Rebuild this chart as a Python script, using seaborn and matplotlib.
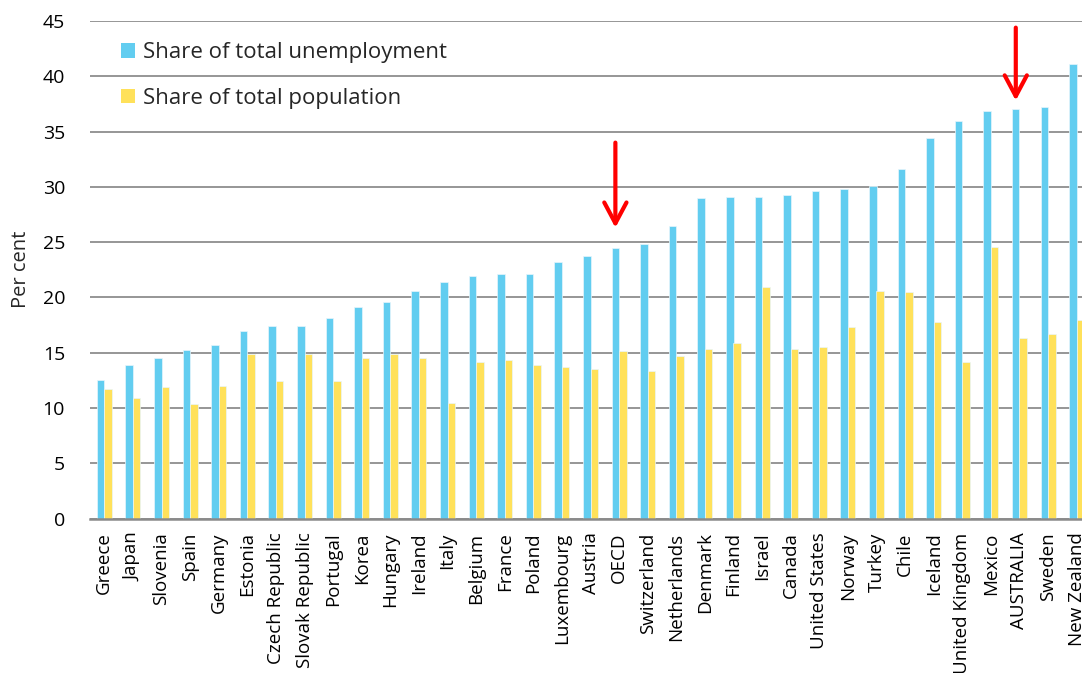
import matplotlib
matplotlib.use("Agg")
import matplotlib.pyplot as plt
import seaborn as sns
import pandas as pd

countries = [
    "Greece", "Japan", "Slovenia", "Spain", "Germany", "Estonia",
    "Czech Republic", "Slovak Republic", "Portugal", "Korea", "Hungary",
    "Ireland", "Italy", "Belgium", "France", "Poland", "Luxembourg",
    "Austria", "OECD", "Switzerland", "Netherlands", "Denmark", "Finland",
    "Israel", "Canada", "United States", "Norway", "Turkey", "Chile",
    "Iceland", "United Kingdom", "Mexico", "AUSTRALIA", "Sweden",
    "New Zealand",
]
unemployment_share = [
    12.55, 13.85, 14.5, 15.2, 15.65, 17.0, 17.45, 17.45, 18.1, 19.1, 19.6,
    20.6, 21.4, 21.9, 22.1, 22.1, 23.2, 23.7, 24.5, 24.85, 26.5, 28.95,
    29.1, 29.1, 29.3, 29.6, 29.8, 30.1, 31.6, 34.4, 36.0, 36.85, 37.0,
    37.2, 41.1,
]
population_share = [
    11.7, 10.9, 11.9, 10.4, 12.0, 14.85, 12.4, 14.85, 12.4, 14.5, 14.85,
    14.5, 10.45, 14.2, 14.36, 13.88, 13.7, 13.5, 15.17, 13.36, 14.7, 15.3,
    15.84, 20.93, 15.33, 15.5, 17.3, 20.6, 20.45, 17.8, 14.2, 24.55, 16.3,
    16.65, 17.97,
]
series_names = ["Share of total unemployment", "Share of total population"]
series_colors = ["#62CDF0", "#FFE15A"]
highlighted = ["OECD", "AUSTRALIA"]
y_ticks = [0, 5, 10, 15, 20, 25, 30, 35, 40, 45]

df = pd.DataFrame({
    "Country": countries * 2,
    "Value": unemployment_share + population_share,
    "Series": [series_names[0]] * len(countries) + [series_names[1]] * len(countries),
})

sns.set_style("white")
plt.rcParams["font.family"] = ["Open Sans", "DejaVu Sans"]

fig = plt.figure(figsize=(10.82, 6.73), dpi=100)
# plot area runs past the right edge, so the last category is clipped
ax = fig.add_axes([90 / 1082, 154.5 / 673, 1001 / 1082, 497.5 / 673])

sns.barplot(
    data=df, x="Country", y="Value", hue="Series", order=countries,
    hue_order=series_names, palette=series_colors, saturation=1, width=0.53,
    edgecolor="#E8F6FC", linewidth=0.5, ax=ax, zorder=3,
)

ax.set_ylim(0, 45)
ax.set_xlim(-0.5, len(countries) - 0.5)
ax.set_yticks(y_ticks)
ax.yaxis.grid(True, color="#8E8E8E", linewidth=1.3, zorder=0)
ax.set_axisbelow(True)
for side in ["left", "right", "top"]:
    ax.spines[side].set_visible(False)
ax.spines["bottom"].set_color("#8A8A8A")
ax.spines["bottom"].set_linewidth(1.8)
ax.spines["bottom"].set_zorder(4)

ax.tick_params(axis="y", length=0, pad=18, labelsize=14, labelcolor="black")
ax.tick_params(axis="x", length=0, pad=10, labelsize=13.5, labelcolor="black")
plt.setp(ax.get_xticklabels(), rotation=90, ha="center", va="top")
ax.set_xlabel("")
ax.set_ylabel("Per cent", fontsize=14.5, labelpad=8)

# arrows marking OECD and Australia
arrow_specs = {"OECD": (1.8, 7.7), "AUSTRALIA": (0.8, 6.6)}
for name in highlighted:
    i = countries.index(name)
    top = unemployment_share[i]
    gap, length = arrow_specs[name]
    ax.annotate(
        "", xy=(i - 0.13, top + gap), xytext=(i - 0.13, top + gap + length),
        arrowprops=dict(arrowstyle="->,head_length=0.75,head_width=0.4",
                        mutation_scale=20, color="#FF0000", lw=3,
                        shrinkA=0, shrinkB=0),
        zorder=5,
    )

leg = ax.legend(
    loc="upper left", bbox_to_anchor=(0.031, 0.957), frameon=False,
    fontsize=16, handlelength=0.65, handleheight=0.65, handletextpad=0.35,
    labelspacing=1.1, borderpad=0, borderaxespad=0,
)
for h in leg.legend_handles:
    h.set_edgecolor("none")

fig.savefig("out.png", dpi=100)
